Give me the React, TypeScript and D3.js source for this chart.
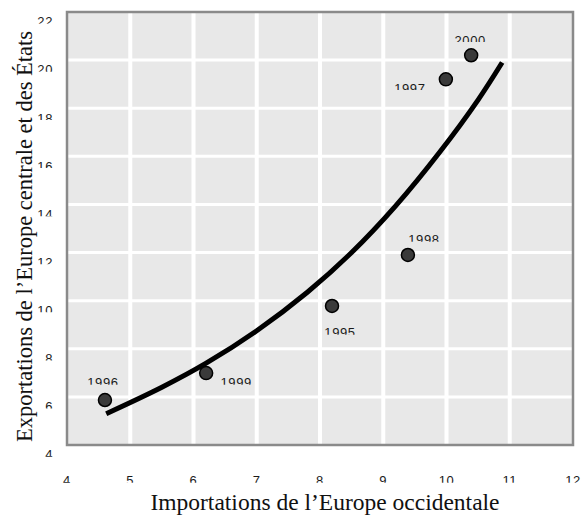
import React from 'react'
import * as d3 from 'd3'

// données
const years = ['1996', '1999', '1995', '1998', '1997', '2000']
const imports = [4.6, 6.2, 8.19, 9.39, 9.99, 10.39]
const exports = [5.87, 6.99, 9.78, 11.9, 19.2, 20.2]

// courbe de tendance
const trendX = [4.62, 5.5, 6.2, 7.0, 7.8, 8.5, 9.2, 9.9, 10.5, 10.88]
const trendY = [5.3, 6.4, 7.4, 8.75, 10.35, 12.0, 13.95, 16.2, 18.35, 19.9]

const xTicks = [4, 5, 6, 7, 8, 9, 10, 11, 12]
const yTicks = [4, 6, 8, 10, 12, 14, 16, 18, 20, 22]

// décalage des étiquettes par rapport au point (px)
const labelOffset: Record<string, [number, number]> = {
	'1996': [-2, -22],
	'1999': [30, 5],
	'1995': [8, 22],
	'1998': [16, -20],
	'1997': [-36, 4],
	'2000': [-1, -20],
}

const W = 581
const H = 516
const plot = { left: 67, right: 573, top: 12, bottom: 445 }

// texte coupé en bas, comme sur l'original
function CutText({ id, x, top, anchor, children }) {
	const fs = 13
	return (
		<g>
			<clipPath id={id}>
				<rect x={x - 60} y={top - 4} width={120} height={10.7} />
			</clipPath>
			<text
				x={x}
				y={top + 9.3}
				textAnchor={anchor}
				clipPath={`url(#${id})`}
				style={{ fontFamily: 'Liberation Sans, Arial, sans-serif', fontSize: fs, fill: '#1a1a1a', letterSpacing: 0.6 }}
			>
				{children}
			</text>
		</g>
	)
}

export default function App() {
	const x = d3.scaleLinear().domain([4, 12]).range([plot.left, plot.right])
	const y = d3.scaleLinear().domain([4, 22]).range([plot.bottom, plot.top])

	const trend = d3
		.line<number>()
		.x((d) => x(d))
		.y((d, i) => y(trendY[i]))
		.curve(d3.curveCatmullRom)(trendX)

	return (
		<svg width={W} height={H} style={{ position: 'absolute', left: 0, top: 0, background: '#fff' }}>
			<rect
				x={plot.left}
				y={plot.top}
				width={plot.right - plot.left}
				height={plot.bottom - plot.top}
				fill="#e8e8e8"
			/>
			{xTicks.slice(1, -1).map((t) => (
				<line key={'gx' + t} x1={x(t)} x2={x(t)} y1={plot.top} y2={plot.bottom} stroke="#fff" strokeWidth={4} />
			))}
			{yTicks.slice(1, -1).map((t) => (
				<line key={'gy' + t} x1={plot.left} x2={plot.right} y1={y(t)} y2={y(t)} stroke="#fff" strokeWidth={3} />
			))}
			<rect
				x={plot.left}
				y={plot.top}
				width={plot.right - plot.left}
				height={plot.bottom - plot.top}
				fill="none"
				stroke="#8a8a8a"
				strokeWidth={2.5}
			/>

			{yTicks.map((t) => (
				<CutText key={'ty' + t} id={'cy' + t} x={53} top={y(t) + 5} anchor="end">
					{t}
				</CutText>
			))}
			{xTicks.map((t) => (
				<CutText key={'tx' + t} id={'cx' + t} x={x(t)} top={476} anchor="middle">
					{t}
				</CutText>
			))}

			<path d={trend} fill="none" stroke="#000" strokeWidth={5} />

			{years.map((yr, i) => (
				<circle key={yr} cx={x(imports[i])} cy={y(exports[i])} r={6.5} fill="#3a3a3a" stroke="#000" strokeWidth={1.5} />
			))}
			{years.map((yr, i) => (
				<CutText
					key={'l' + yr}
					id={'cl' + yr}
					x={x(imports[i]) + labelOffset[yr][0]}
					top={y(exports[i]) + labelOffset[yr][1]}
					anchor="middle"
				>
					{yr}
				</CutText>
			))}

			<text
				x={325}
				y={509.5}
				textAnchor="middle"
				style={{ fontFamily: 'Liberation Serif, Times New Roman, serif', fontSize: 23.5, fill: '#111' }}
			>
				Importations de l’Europe occidentale
			</text>
			<text
				transform={`translate(32,236.5) rotate(-90)`}
				textAnchor="middle"
				style={{ fontFamily: 'Liberation Serif, Times New Roman, serif', fontSize: 22.5, fill: '#111' }}
			>
				Exportations de l’Europe centrale et des États
			</text>
		</svg>
	)
}
